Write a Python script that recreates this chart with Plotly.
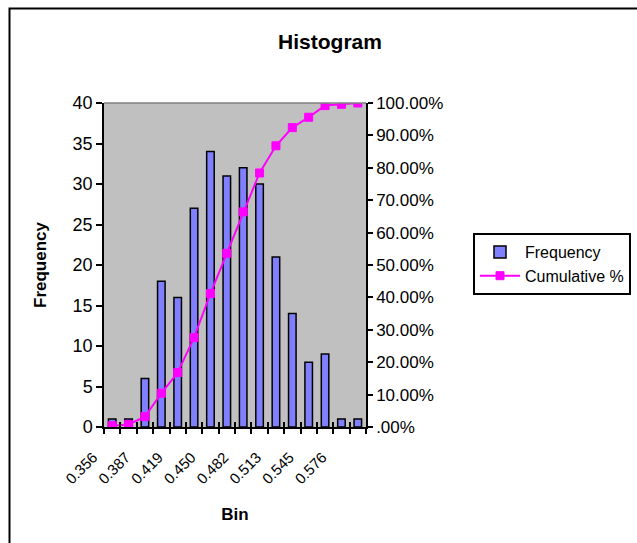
import plotly.graph_objects as go

bins = ["0.356", "0.372", "0.387", "0.403", "0.419", "0.435", "0.450", "0.466",
        "0.482", "0.498", "0.513", "0.529", "0.545", "0.560", "0.576", "0.592"]
frequency = [1, 1, 6, 18, 16, 27, 34, 31, 32, 30, 21, 14, 8, 9, 1, 1]
cumulative = [0.004, 0.008, 0.032, 0.104, 0.168, 0.276, 0.412, 0.536,
              0.664, 0.784, 0.868, 0.924, 0.956, 0.992, 0.996, 1.0]
x_tick_labels = [b if i % 2 == 0 else "" for i, b in enumerate(bins)]
y2_tickvals = [i / 10 for i in range(11)]
y2_ticktext = [".00%", "10.00%", "20.00%", "30.00%", "40.00%", "50.00%",
               "60.00%", "70.00%", "80.00%", "90.00%", "100.00%"]

FONT = "Liberation Sans, Arial, sans-serif"
W, H = 637, 543
L, R, T, B = 104, 366, 103, 427
x_range = [-0.5, len(bins) - 0.5]

fig = go.Figure()
fig.add_trace(go.Bar(
    x=bins, y=frequency, name="Frequency",
    marker=dict(color="#8080FF", line=dict(color="black", width=1.5)),
    xaxis="x", yaxis="y",
))
fig.add_trace(go.Scatter(
    x=bins, y=cumulative, name="Cumulative %", mode="lines+markers",
    line=dict(color="#FF00FF", width=2),
    marker=dict(symbol="square", size=8, color="#FF00FF",
                line=dict(color="#FF00FF", width=1)),
    xaxis="x2", yaxis="y2",
))

def px_x(p):
    return (p - L) / (R - L)

def px_y(p):
    return (B - p) / (B - T)

fig.update_layout(
    width=W, height=H,
    margin=dict(l=L, r=W - R, t=T, b=H - B, pad=0, autoexpand=False),
    paper_bgcolor="white", plot_bgcolor="#C0C0C0",
    font=dict(family=FONT, size=17, color="black"),
    bargap=0.54,
    showlegend=True,
    title=dict(text="<b>Histogram</b>", x=330 / W, xref="container",
               xanchor="center", y=1 - 42 / H, yanchor="middle",
               font=dict(size=21, family=FONT)),
    legend=dict(x=px_x(473), y=px_y(233), xanchor="left", yanchor="top",
                bordercolor="black", borderwidth=2, bgcolor="white",
                font=dict(size=16, family=FONT), tracegroupgap=2,
                itemwidth=40),
    xaxis=dict(type="category", tickvals=bins, ticktext=x_tick_labels,
               range=x_range, autorange=False,
               tickson="boundaries", ticks="outside", ticklen=5, tickwidth=1.5,
               tickcolor="black", showline=True, linecolor="black", linewidth=1.5,
               tickangle=-45, tickfont=dict(size=15), showgrid=False,
               ticklabelshift=-19, ticklabelstandoff=14, automargin=False,
               title=dict(text="<b>Bin</b>", font=dict(size=17), standoff=22),
               zeroline=False),
    xaxis2=dict(type="category", overlaying="x", anchor="y", side="bottom",
                range=x_range, autorange=False,
                tickvals=bins, tickson="boundaries", ticks="inside", ticklen=5,
                tickwidth=1.5, tickcolor="black", showticklabels=False,
                showline=False, showgrid=False, zeroline=False),
    yaxis=dict(range=[0, 40], dtick=5, ticks="outside", ticklen=6, tickwidth=1.5,
               tickcolor="black", showline=True, linecolor="black", linewidth=1.5,
               showgrid=False, zeroline=False, automargin=False,
               tickfont=dict(size=18),
               title=dict(text="<b>Frequency</b>", font=dict(size=17), standoff=22)),
    yaxis2=dict(range=[0, 1], overlaying="y", side="right", anchor="x2",
                tickvals=y2_tickvals, ticktext=y2_ticktext, automargin=False,
                ticks="outside", ticklen=5, tickwidth=1.5, tickcolor="black",
                showline=True, linecolor="black", linewidth=1.5,
                showgrid=False, zeroline=False),
    shapes=[
        dict(type="line", xref="paper", yref="paper", x0=0, x1=1, y0=1, y1=1,
             line=dict(color="#808080", width=1.5)),
        dict(type="rect", xref="paper", yref="paper",
             x0=px_x(9.5), x1=px_x(700), y0=px_y(700), y1=px_y(8.5),
             line=dict(color="black", width=2), layer="above"),
    ],
)

fig.write_html("out.html", config={"displayModeBar": False},
               post_script="document.body.style.margin='0';document.body.style.overflow='hidden';")
